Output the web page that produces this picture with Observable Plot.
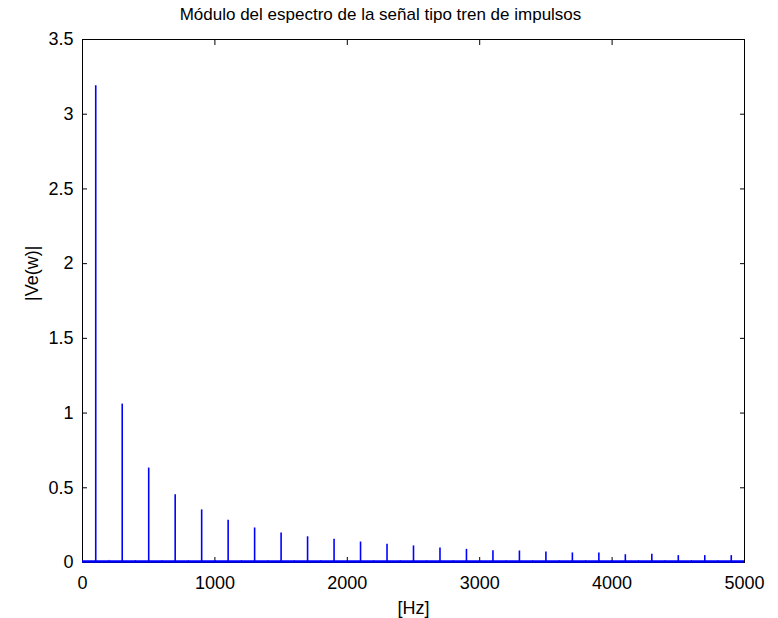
<!DOCTYPE html>
<html>
<head>
<meta charset="utf-8">
<script src="https://cdn.jsdelivr.net/npm/d3@7"></script>
<script src="https://cdn.jsdelivr.net/npm/@observablehq/plot@0.6"></script>
<style>
  html, body { margin: 0; padding: 0; background: white; }
</style>
</head>
<body>
<div id="chart"></div>
<script>
// Odd harmonics of the 100 Hz impulse train and their spectral magnitude
const harmonicsHz = [100, 300, 500, 700, 900, 1100, 1300, 1500, 1700, 1900,
  2100, 2300, 2500, 2700, 2900, 3100, 3300, 3500, 3700, 3900,
  4100, 4300, 4500, 4700, 4900];
const magnitude = [3.19, 1.06, 0.632, 0.453, 0.352, 0.283, 0.231, 0.198, 0.172, 0.156,
  0.137, 0.122, 0.111, 0.097, 0.088, 0.079, 0.077, 0.07, 0.064, 0.064,
  0.052, 0.055, 0.046, 0.046, 0.046];

// Small leakage bumps at the even harmonics
const evenHz = [200, 400, 600, 800, 1000, 1200, 1400, 1600, 1800, 2000,
  2200, 2400, 2600, 2800, 3000, 3200, 3400, 3600, 3800, 4000,
  4200, 4400, 4600, 4800];
const evenMagnitude = [0.014, 0.012, 0.012, 0.012, 0.012, 0.012, 0.012, 0.012, 0.012, 0.012,
  0.012, 0.012, 0.012, 0.012, 0.012, 0.012, 0.012, 0.012, 0.012, 0.012,
  0.012, 0.012, 0.012, 0.012];

// Noise floor of the spectrum
const noiseFloor = 0.007;

const xTicks = [0, 1000, 2000, 3000, 4000, 5000];
const yTicks = [0, 0.5, 1, 1.5, 2, 2.5, 3, 3.5];

const title = "Módulo del espectro de la señal tipo tren de impulsos";
const xLabel = "[Hz]";
const yLabel = "|Ve(w)|";

const spikes = harmonicsHz.map((f, i) => ({f, v: magnitude[i]}));
const bumps = evenHz.map((f, i) => ({f, v: evenMagnitude[i]}));

const font = "'Liberation Sans', Arial, Helvetica, sans-serif";
const tickFs = 18;
const labelFs = 18;
const titleFs = 17;

const chart = Plot.plot({
  width: 778,
  height: 618,
  marginLeft: 82,
  marginRight: 34,
  marginTop: 39,
  marginBottom: 56,
  style: {fontFamily: font, fontSize: tickFs + "px", color: "black", background: "white", overflow: "visible"},
  x: {domain: [0, 5000], label: null},
  y: {domain: [0, 3.5], label: null},
  marks: [
    // box and inward ticks on all four sides
    Plot.frame({stroke: "black", strokeWidth: 1}),
    Plot.axisX({anchor: "bottom", ticks: xTicks, tickSize: -5, tickPadding: 18.5,
      tickFormat: d => String(d), fontSize: tickFs, label: null}),
    Plot.axisX({anchor: "top", ticks: xTicks, tickSize: -5, tickFormat: () => "", label: null}),
    Plot.axisY({anchor: "left", ticks: yTicks, tickSize: -5, tickPadding: 14,
      tickFormat: d => String(d), fontSize: tickFs, label: null}),
    Plot.axisY({anchor: "right", ticks: yTicks, tickSize: -5, tickFormat: () => "", label: null}),
    // spectrum
    Plot.ruleY([noiseFloor], {stroke: "#0000ff", strokeWidth: 2.6}),
    Plot.ruleX(bumps, {x: "f", y1: 0, y2: "v", stroke: "#0000ff", strokeWidth: 1}),
    Plot.ruleX(spikes, {x: "f", y1: 0, y2: "v", stroke: "#0000ff", strokeWidth: 1.6}),
    // titles
    Plot.text([title], {frameAnchor: "top", dx: -33, dy: -25, lineAnchor: "middle", fontSize: titleFs, fill: "black"}),
    Plot.text([xLabel], {frameAnchor: "bottom", dy: 46, lineAnchor: "middle", fontSize: labelFs, fill: "black"}),
    Plot.text([yLabel], {frameAnchor: "left", dx: -50, rotate: -90, lineAnchor: "middle", fontSize: labelFs, fill: "black"})
  ]
});

document.getElementById("chart").appendChild(chart);
</script>
</body>
</html>
